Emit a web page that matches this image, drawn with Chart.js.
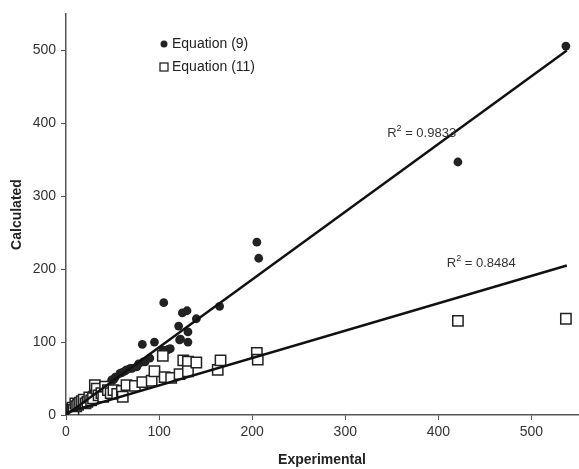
<!DOCTYPE html>
<html>
<head>
<meta charset="utf-8">
<script src="https://cdn.jsdelivr.net/npm/chart.js@4.4.1/dist/chart.umd.min.js"></script>
<style>
  html, body { margin: 0; padding: 0; background: #fff; overflow: hidden; }
  #wrap { width: 579px; height: 469px; position: relative; }
</style>
</head>
<body>
<div id="wrap"><canvas id="chart"></canvas></div>
<script>
// Equation (9) — filled circles
const eq9X = [0.5, 1, 2, 3, 4, 5, 6, 7, 8, 9, 10, 12, 13, 15, 17, 19, 21, 23, 25, 27, 29, 33, 36, 40, 44, 49, 51, 53, 58, 60, 63, 65, 69, 71, 76, 78, 83, 85, 90, 82, 95, 104, 108, 110, 112, 121, 122, 123, 125, 130, 131, 131, 140, 105, 165, 205, 207, 421, 537];
const eq9Y = [1, 3, 2, 5, 4, 7, 6, 9, 7, 11, 10, 13, 11, 16, 15, 20, 19, 24, 23, 28, 32, 36, 34, 39, 41, 48, 48, 52, 57, 58, 60, 62, 64, 64, 66, 70, 73, 73, 78, 97, 100, 89, 89, 90, 91, 122, 103, 104, 140, 143, 114, 100, 132, 154, 149, 237, 215, 347, 506];

// Equation (11) — open squares
const eq11X = [0.5, 1, 2, 3, 4, 5, 6, 7, 8, 10, 11, 13, 15, 17, 19, 21, 23, 25, 27, 29, 31, 33, 35, 38, 40, 42, 45, 48, 51, 55, 60, 61, 65, 74, 82, 92, 95, 104, 106, 113, 122, 126, 131, 131, 140, 163, 166, 205, 206, 421, 537];
const eq11Y = [1, 2, 4, 3, 6, 5, 8, 10, 7, 16, 12, 14, 17, 19, 21, 16, 18, 24, 20, 23, 41, 36, 27, 30, 25, 39, 34, 30, 34, 29, 33, 25, 41, 40, 45, 47, 60, 81, 52, 51, 56, 75, 73, 60, 72, 62, 75, 85, 76, 129, 132];

// trend lines (end points)
const fitX = [0, 538];
const fit9Y = [0, 500];
const fit11Y = [3, 205];

const r2Labels = [
  { text: "0.9833", x: 345, y: 381 },
  { text: "0.8484", x: 409, y: 203 }
];

const tickValues = [0, 100, 200, 300, 400, 500];

const toPoints = (xs, ys) => xs.map((x, i) => ({ x, y: ys[i] }));

const FONT = "'Liberation Sans', Arial, sans-serif";
const AXIS = "#555";
const TEXT = "#333";

const overlayPlugin = {
  id: "overlay",
  afterDraw(chart) {
    const { ctx, chartArea, scales } = chart;
    ctx.save();

    // R² annotations
    r2Labels.forEach((l) => {
      let px = scales.x.getPixelForValue(l.x);
      const py = scales.y.getPixelForValue(l.y);
      ctx.fillStyle = TEXT;
      ctx.textBaseline = "alphabetic";
      ctx.textAlign = "left";
      ctx.font = `13px ${FONT}`;
      ctx.fillText("R", px, py);
      px += ctx.measureText("R").width;
      ctx.font = `9px ${FONT}`;
      ctx.fillText("2", px, py - 6);
      px += ctx.measureText("2").width;
      ctx.font = `13px ${FONT}`;
      ctx.fillText(" = " + l.text, px, py);
    });

    // legend
    const lx = chartArea.left + 98;
    const ly = chartArea.top + 30;
    ctx.fillStyle = "#222";
    ctx.beginPath();
    ctx.arc(lx, ly, 3.5, 0, Math.PI * 2);
    ctx.fill();
    ctx.strokeStyle = "#222";
    ctx.lineWidth = 1.3;
    ctx.fillStyle = "#fff";
    ctx.fillRect(lx - 4, ly + 19, 8, 8);
    ctx.strokeRect(lx - 4, ly + 19, 8, 8);
    ctx.fillStyle = "#222";
    ctx.font = `14px ${FONT}`;
    ctx.textBaseline = "middle";
    ctx.fillText("Equation (9)", lx + 8, ly);
    ctx.fillText("Equation (11)", lx + 8, ly + 23);
    ctx.restore();
  }
};

new Chart(document.getElementById("chart"), {
  type: "scatter",
  data: {
    datasets: [
      {
        type: "line",
        label: "fit9",
        data: toPoints(fitX, fit9Y),
        borderColor: "#111",
        borderWidth: 2.5,
        pointRadius: 0,
        fill: false
      },
      {
        type: "line",
        label: "fit11",
        data: toPoints(fitX, fit11Y),
        borderColor: "#111",
        borderWidth: 2.5,
        pointRadius: 0,
        fill: false
      },
      {
        label: "Equation (11)",
        data: toPoints(eq11X, eq11Y),
        pointStyle: "rect",
        pointRadius: 7.3,
        backgroundColor: "#fff",
        borderColor: "#222",
        borderWidth: 1.5
      },
      {
        label: "Equation (9)",
        data: toPoints(eq9X, eq9Y),
        pointStyle: "circle",
        pointRadius: 4.4,
        backgroundColor: "#222",
        borderColor: "#222",
        borderWidth: 0
      }
    ]
  },
  options: {
    responsive: true,
    maintainAspectRatio: false,
    animation: false,
    layout: { autoPadding: false, padding: { top: 14, right: 1, left: 0, bottom: 0 } },
    plugins: { legend: { display: false }, tooltip: { enabled: false } },
    scales: {
      x: {
        type: "linear",
        min: 0,
        max: 550,
        afterFit: (s) => { s.height = 54; },
        afterBuildTicks: (s) => { s.ticks = tickValues.map((v) => ({ value: v })); },
        grid: { drawOnChartArea: false, drawTicks: true, tickLength: 5, color: AXIS },
        border: { display: true, color: AXIS, width: 1.5 },
        ticks: { color: TEXT, font: { family: FONT, size: 14 }, padding: 4 },
        title: {
          display: true,
          text: "Experimental",
          color: "#222",
          font: { family: FONT, size: 14, weight: "bold" },
          padding: { top: 5, bottom: 0 }
        }
      },
      y: {
        type: "linear",
        min: 0,
        max: 550,
        afterFit: (s) => { s.width = 66; },
        afterBuildTicks: (s) => { s.ticks = tickValues.map((v) => ({ value: v })); },
        grid: { drawOnChartArea: false, drawTicks: true, tickLength: 5, color: AXIS },
        border: { display: true, color: AXIS, width: 1.5 },
        ticks: { color: TEXT, font: { family: FONT, size: 14 }, padding: 5 },
        title: {
          display: true,
          text: "Calculated",
          color: "#222",
          font: { family: FONT, size: 14, weight: "bold" },
          padding: { top: 9, bottom: 0 }
        }
      }
    }
  },
  plugins: [overlayPlugin]
});
</script>
</body>
</html>
